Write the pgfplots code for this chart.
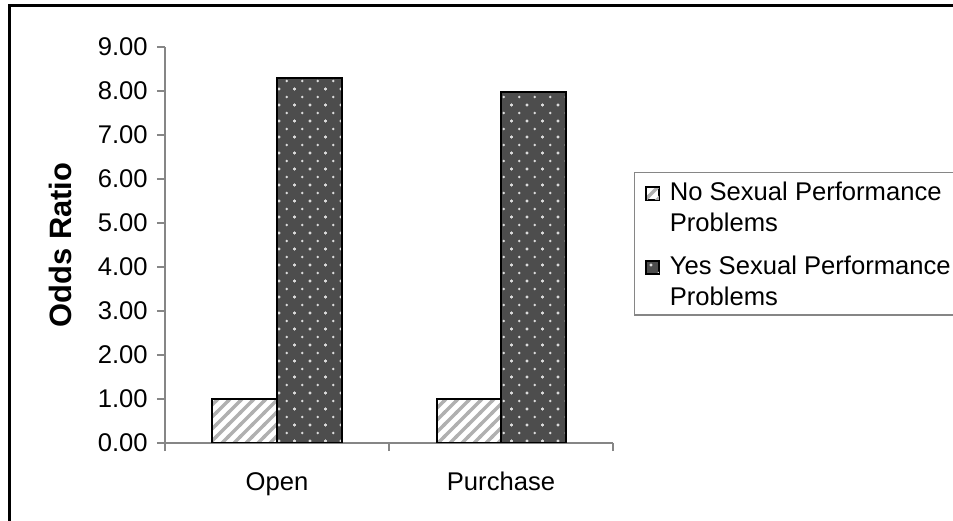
\documentclass[border=0pt]{standalone}
\usepackage{fontspec}
\setmainfont{Liberation Sans}
\usepackage{pgfplots}
\pgfplotsset{compat=1.18}
\usetikzlibrary{patterns}

\definecolor{barDark}{HTML}{4D4D4D}
\definecolor{dotGrey}{HTML}{DCDCDC}
\definecolor{hatchGrey}{HTML}{B0B0B0}
\definecolor{axisGrey}{HTML}{868686}

% diagonal hatching of the "No" bars
\pgfdeclarepatternformonly{hatch}{\pgfqpoint{-1bp}{-1bp}}{\pgfqpoint{7bp}{7bp}}{\pgfqpoint{6bp}{6bp}}{%
  \pgfsetlinewidth{1.7bp}%
  \pgfpathmoveto{\pgfqpoint{-1bp}{-1bp}}%
  \pgfpathlineto{\pgfqpoint{7bp}{7bp}}%
  \pgfusepath{stroke}}

% staggered dots of the "Yes" bars
\pgfdeclarepatternformonly{sdots}{\pgfqpoint{-1bp}{-1bp}}{\pgfqpoint{8.75bp}{9bp}}{\pgfqpoint{7.75bp}{8bp}}{%
  \pgfpathcircle{\pgfqpoint{0bp}{0bp}}{0.65bp}%
  \pgfpathcircle{\pgfqpoint{3.875bp}{4bp}}{0.65bp}%
  \pgfpathcircle{\pgfqpoint{7.75bp}{0bp}}{0.65bp}%
  \pgfpathcircle{\pgfqpoint{0bp}{8bp}}{0.65bp}%
  \pgfpathcircle{\pgfqpoint{7.75bp}{8bp}}{0.65bp}%
  \pgfusepath{fill}}

\pgfplotsset{
    noBar/.style={draw=black, line width=1bp, preaction={fill=white},
        pattern=hatch, pattern color=hatchGrey},
    yesBar/.style={draw=black, line width=1bp, preaction={fill=barDark},
        pattern=sdots, pattern color=dotGrey},
    noKey/.style={legend image code/.code={%
        \draw[draw=black, line width=0.6bp, preaction={fill=white},
            pattern=hatch, pattern color=hatchGrey]
            (0bp,0.25bp) rectangle (6.5bp,6.75bp);}},
    yesKey/.style={legend image code/.code={%
        \draw[draw=black, line width=0.6bp, preaction={fill=barDark},
            pattern=sdots, pattern color=dotGrey]
            (0bp,15.7bp) rectangle (6.5bp,22.2bp);}},
}

\newcommand{\txt}{\fontsize{12.85}{15.5}\selectfont}
% first entry hangs from its first line, second stands on its last line
\newcommand{\twolinesT}[2]{\begin{tabular}[t]{@{}l@{}}#1\\#2\end{tabular}}
\newcommand{\twolinesB}[2]{\begin{tabular}[b]{@{}l@{}}#1\\#2\end{tabular}}

\begin{document}
\begin{tikzpicture}
\path[use as bounding box] (0bp,0bp) rectangle (476.5bp,260.5bp);
% outer chart frame (right and bottom sides fall outside the picture)
\draw[line width=1.5bp] (4.5bp,-5bp) -- (4.5bp,257.5bp) -- (490bp,257.5bp);

\begin{axis}[
    at={(82.5bp,39bp)}, anchor=south west,
    scale only axis,
    width=224bp, height=198bp,
    xmin=-0.5, xmax=1.5,
    ymin=0, ymax=9,
    xtick={0,1},
    xticklabels={Open,Purchase},
    minor xtick={-0.5,0.5,1.5},
    ytick={0,1,...,9},
    axis x line*=bottom,
    axis y line*=left,
    axis line style={axisGrey, line width=0.6bp, -},
    tick align=outside,
    major tick length=4bp,
    minor tick length=4bp,
    every tick/.style={axisGrey, line width=0.6bp},
    major x tick style={draw=none},
    /pgf/number format/.cd, fixed, fixed zerofill, precision=2, assume math mode=true,
    /pgfplots/.cd,
    tick label style={font=\txt},
    yticklabel style={anchor=east, inner sep=0pt, xshift=-4.5bp},
    xticklabel style={anchor=base, inner sep=0pt, yshift=-19.5bp},
    ylabel={Odds Ratio},
    ylabel style={font=\fontsize{15.5}{18}\selectfont\bfseries,
        at={(axis description cs:-0.234,0.5)}, anchor=center},
    ybar=0pt,
    bar width=32.25bp,
    legend style={
        at={(1.0469,0.6843)}, anchor=north west,
        draw=axisGrey, line width=0.6bp,
        font=\txt,
        inner xsep=5.5bp, inner ysep=3.3bp,
        row sep=24.5bp,
        nodes={inner sep=0pt},
        cells={anchor=base west},
        /tikz/every odd column/.append style={column sep=5bp},
    },
]

\addplot[noBar, noKey] coordinates {(0,1.00) (1,1.00)};
\addplot[yesBar, yesKey] coordinates {(0,8.30) (1,7.98)};

\legend{\twolinesT{No Sexual Performance}{Problems},
        \twolinesB{Yes Sexual Performance}{Problems}}
\end{axis}
\end{tikzpicture}
\end{document}
